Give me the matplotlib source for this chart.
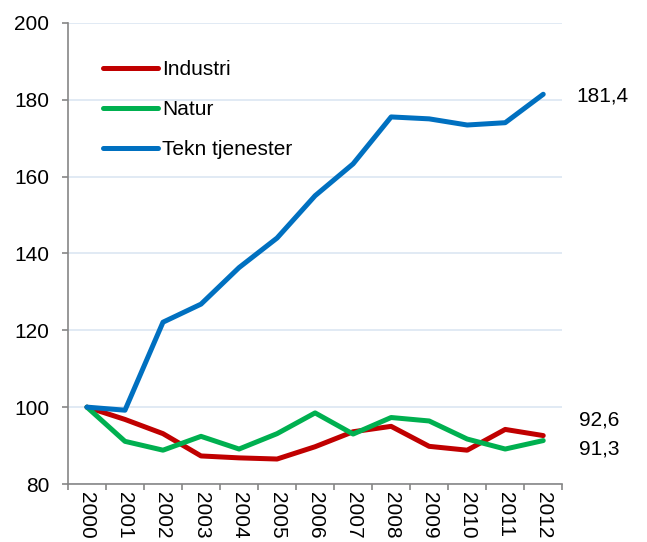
import matplotlib.pyplot as plt

plt.rcParams['font.family'] = ['Liberation Sans', 'DejaVu Sans']

years = [str(y) for y in range(2000, 2013)]
industri = [100, 96.8, 93.1, 87.3, 86.8, 86.5, 89.7, 93.6, 95.0, 89.8, 88.8, 94.2, 92.6]
natur = [100, 91.1, 88.8, 92.4, 89.1, 93.1, 98.5, 93.0, 97.3, 96.4, 91.7, 89.1, 91.3]
tekn = [100, 99.2, 122.1, 126.8, 136.3, 144.0, 155.0, 163.3, 175.5, 175.0, 173.4, 174.0, 181.4]

fig = plt.figure(figsize=(6.47, 5.42), dpi=100)
ax = fig.add_axes([0.105, 0.107, 0.764, 0.851])

x = range(len(years))
ax.plot(x, industri, color='#C00000', lw=3.6, label='Industri', solid_capstyle='round')
ax.plot(x, natur, color='#00B050', lw=3.6, label='Natur', solid_capstyle='round')
ax.plot(x, tekn, color='#0070C0', lw=3.6, label='Tekn tjenester', solid_capstyle='round')

# verdier ved siste punkt
def lab(v):
    return f"{v:.1f}".replace('.', ',')

ax.annotate(lab(tekn[-1]), (x[-1], tekn[-1]), xytext=(24, -1), textcoords='offset points',
            va='center', fontsize=15, annotation_clip=False)
ax.annotate(lab(industri[-1]), (x[-1], industri[-1]), xytext=(26, 11), textcoords='offset points',
            va='center', fontsize=15, annotation_clip=False)
ax.annotate(lab(natur[-1]), (x[-1], natur[-1]), xytext=(26, -6), textcoords='offset points',
            va='center', fontsize=15, annotation_clip=False)

ax.set_ylim(80, 200)
ax.set_yticks(range(80, 201, 20))
ax.set_xlim(-0.5, len(years) - 0.5)
ax.set_xticks(list(x))
ax.set_xticklabels(years, rotation=-90, fontsize=15, va='top')
ax.set_xticks([i - 0.5 for i in range(len(years) + 1)], minor=True)
ax.tick_params(axis='x', which='major', length=0, pad=6)
ax.tick_params(axis='x', which='minor', length=4.5, color='#868686', width=1.2)
ax.tick_params(axis='y', labelsize=15, length=4.5, color='#868686', width=1.2, pad=9)

ax.grid(axis='y', color='#DCE6F2', lw=1.2)
ax.set_axisbelow(True)
for s in ['top', 'right']:
    ax.spines[s].set_visible(False)
for s in ['left', 'bottom']:
    ax.spines[s].set_color('#868686')
    ax.spines[s].set_linewidth(1.2)

ax.legend(loc='upper left', bbox_to_anchor=(0.054, 0.937), borderaxespad=0, frameon=False,
          fontsize=15, handlelength=2.64, handletextpad=0.2, labelspacing=1.0)

fig.savefig('out.png', dpi=100)
